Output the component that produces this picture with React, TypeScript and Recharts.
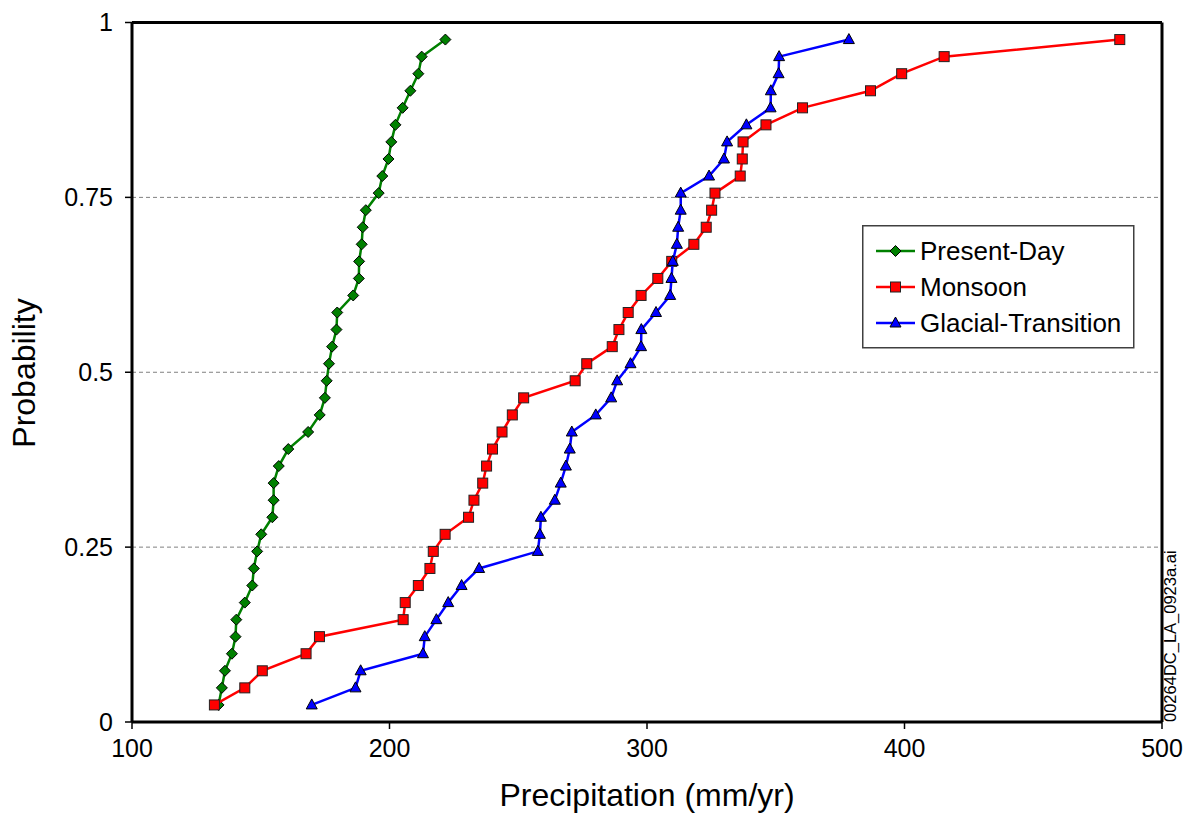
import React from 'react';
import { ScatterChart, Scatter, XAxis, YAxis, CartesianGrid, ReferenceLine, Legend } from 'recharts';

// Cumulative probability of each ranked value (same for all three series)
const probabilities = [
  0.0244, 0.0488, 0.0732, 0.0976, 0.122, 0.1463, 0.1707, 0.1951, 0.2195, 0.2439,
  0.2683, 0.2927, 0.3171, 0.3415, 0.3659, 0.3902, 0.4146, 0.439, 0.4634, 0.4878,
  0.5122, 0.5366, 0.561, 0.5854, 0.6098, 0.6341, 0.6585, 0.6829, 0.7073, 0.7317,
  0.7561, 0.7805, 0.8049, 0.8293, 0.8537, 0.878, 0.9024, 0.9268, 0.9512, 0.9756,
];

// Precipitation (mm/yr), ranked
const presentDay = [
  133.6, 134.9, 136.1, 138.8, 140.2, 140.5, 143.8, 146.7, 147.3, 148.6,
  150.2, 154.5, 155.0, 155.0, 157.0, 160.7, 168.4, 172.9, 174.9, 175.6,
  176.5, 177.7, 179.4, 179.7, 185.9, 188.1, 188.2, 189.2, 189.6, 190.8,
  195.8, 197.2, 199.6, 200.7, 202.3, 205.1, 208.1, 211.2, 212.5, 221.7,
];

const monsoon = [
  132.0, 143.8, 150.6, 167.6, 172.8, 205.3, 206.1, 211.2, 215.7, 217.0,
  221.6, 230.7, 232.8, 236.2, 237.7, 240.0, 243.7, 247.7, 252.1, 272.1,
  276.6, 286.5, 289.1, 292.7, 297.7, 304.2, 309.6, 318.2, 323.0, 325.1,
  326.4, 336.2, 337.0, 337.3, 346.2, 360.4, 386.8, 398.9, 415.4, 483.6,
];

const glacialTransition = [
  169.8, 186.8, 188.8, 213.0, 213.7, 218.2, 222.8, 228.0, 234.8, 257.6,
  258.4, 258.8, 264.2, 266.5, 268.5, 270.0, 270.8, 280.1, 286.1, 288.4,
  293.6, 297.7, 297.8, 303.5, 309.0, 309.5, 310.0, 311.6, 312.1, 313.1,
  313.1, 324.1, 329.9, 331.1, 338.6, 348.0, 348.1, 351.1, 351.3, 378.4,
];

const seriesNames = ['Present-Day', 'Monsoon', 'Glacial-Transition'];
const seriesColors = ['#008000', '#ff0000', '#0000ff'];
const xTicks = [100, 200, 300, 400, 500];
const yTicks = [0, 0.25, 0.5, 0.75, 1];

const FONT = '"Liberation Sans", Arial, Helvetica, sans-serif';

const toPoints = (xs: number[]) => xs.map((x, i) => ({ x, p: probabilities[i] }));

const diamondEl = (cx: number, cy: number, key?: string) => {
  const r = 5.5;
  return (
    <polygon
      key={key}
      points={`${cx},${cy - r} ${cx + r},${cy} ${cx},${cy + r} ${cx - r},${cy}`}
      fill="#008000"
      stroke="#000"
      strokeWidth={1}
    />
  );
};
const squareEl = (cx: number, cy: number, key?: string) => {
  const s = 10;
  return (
    <rect key={key} x={cx - s / 2} y={cy - s / 2} width={s} height={s} fill="#ff0000" stroke="#222" strokeWidth={1} />
  );
};
const triangleEl = (cx: number, cy: number, key?: string) => {
  const w = 11;
  const h = 10;
  return (
    <polygon
      key={key}
      points={`${cx},${cy - h * 0.6} ${cx + w / 2},${cy + h * 0.4} ${cx - w / 2},${cy + h * 0.4}`}
      fill="#0000ff"
      stroke="#000"
      strokeWidth={1}
    />
  );
};

const DiamondShape = (props: any) => diamondEl(props.cx, props.cy);
const SquareShape = (props: any) => squareEl(props.cx, props.cy);
const TriangleShape = (props: any) => triangleEl(props.cx, props.cy);

const markerFns = [diamondEl, squareEl, triangleEl];

const LegendBox = () => {
  const rows = [26, 62, 98];
  return (
    <svg width={273} height={124} style={{ display: 'block' }}>
      <rect x={0.75} y={0.75} width={271} height={122} fill="#fff" stroke="#404040" strokeWidth={1.5} />
      {seriesNames.map((name, i) => (
        <g key={name}>
          <line x1={14} x2={53} y1={rows[i]} y2={rows[i]} stroke={seriesColors[i]} strokeWidth={2.5} />
          {markerFns[i](33.5, rows[i], 'm' + i)}
          <text x={58} y={rows[i] + 9} fontSize={26} fontFamily={FONT} fill="#000">
            {name}
          </text>
        </g>
      ))}
    </svg>
  );
};

export default function App() {
  const W = 1177;
  const H = 803;
  const axisLine = { stroke: '#000', strokeWidth: 3 };
  const tickLine = { stroke: '#000', strokeWidth: 1.5 };
  const tickStyle = { fontSize: 25, fill: '#000', fontFamily: FONT };
  return (
    <div style={{ width: 1185, height: 819, background: '#fff', overflow: 'hidden' }}>
      <style>{'html, body { margin: 0; padding: 0; }'}</style>
      <div style={{ position: 'relative', left: 8, top: 8, width: W, height: H }}>
        <ScatterChart width={W} height={H} margin={{ top: 14.5, right: 23, bottom: 29, left: 0 }}>
          <CartesianGrid vertical={false} stroke="#808080" strokeDasharray="4 3" strokeWidth={1} />
          <XAxis
            type="number"
            dataKey="x"
            domain={[100, 500]}
            ticks={xTicks}
            allowDataOverflow
            height={60}
            tickSize={7}
            tickMargin={10}
            axisLine={axisLine}
            tickLine={tickLine}
            tick={tickStyle}
          />
          <YAxis
            type="number"
            dataKey="p"
            domain={[0, 1]}
            ticks={yTicks}
            allowDataOverflow
            width={124}
            tickSize={7}
            tickMargin={12}
            axisLine={axisLine}
            tickLine={tickLine}
            tick={tickStyle}
          />
          <ReferenceLine y={1} stroke="#000" strokeWidth={3} />
          <ReferenceLine x={500} stroke="#000" strokeWidth={3} />
          <Legend
            layout="horizontal"
            verticalAlign="middle"
            align="center"
            content={() => <LegendBox />}
            wrapperStyle={{ position: 'absolute', left: 854, top: 217, width: 273, height: 124, margin: 0 }}
          />
          <Scatter
            name={seriesNames[0]}
            data={toPoints(presentDay)}
            fill={seriesColors[0]}
            line={{ stroke: seriesColors[0], strokeWidth: 2.5 }}
            lineType="joint"
            shape={DiamondShape}
            isAnimationActive={false}
          />
          <Scatter
            name={seriesNames[1]}
            data={toPoints(monsoon)}
            fill={seriesColors[1]}
            line={{ stroke: seriesColors[1], strokeWidth: 2.5 }}
            lineType="joint"
            shape={SquareShape}
            isAnimationActive={false}
          />
          <Scatter
            name={seriesNames[2]}
            data={toPoints(glacialTransition)}
            fill={seriesColors[2]}
            line={{ stroke: seriesColors[2], strokeWidth: 2.5 }}
            lineType="joint"
            shape={TriangleShape}
            isAnimationActive={false}
          />
        </ScatterChart>
        <svg
          width={W}
          height={H}
          style={{ position: 'absolute', left: 0, top: 0, pointerEvents: 'none', overflow: 'visible' }}
        >
          <text x={639} y={798} textAnchor="middle" fontSize={32} fontFamily={FONT} fill="#000">
            Precipitation (mm/yr)
          </text>
          <text
            x={27}
            y={365}
            textAnchor="middle"
            fontSize={32}
            fontFamily={FONT}
            fill="#000"
            transform="rotate(-90, 27, 365)"
          >
            Probability
          </text>
          <text
            x={1168}
            y={714}
            textAnchor="start"
            fontSize={16.5}
            fontFamily={FONT}
            fill="#000"
            transform="rotate(-90, 1168, 714)"
          >
            00264DC_LA_0923a.ai
          </text>
        </svg>
      </div>
    </div>
  );
}
